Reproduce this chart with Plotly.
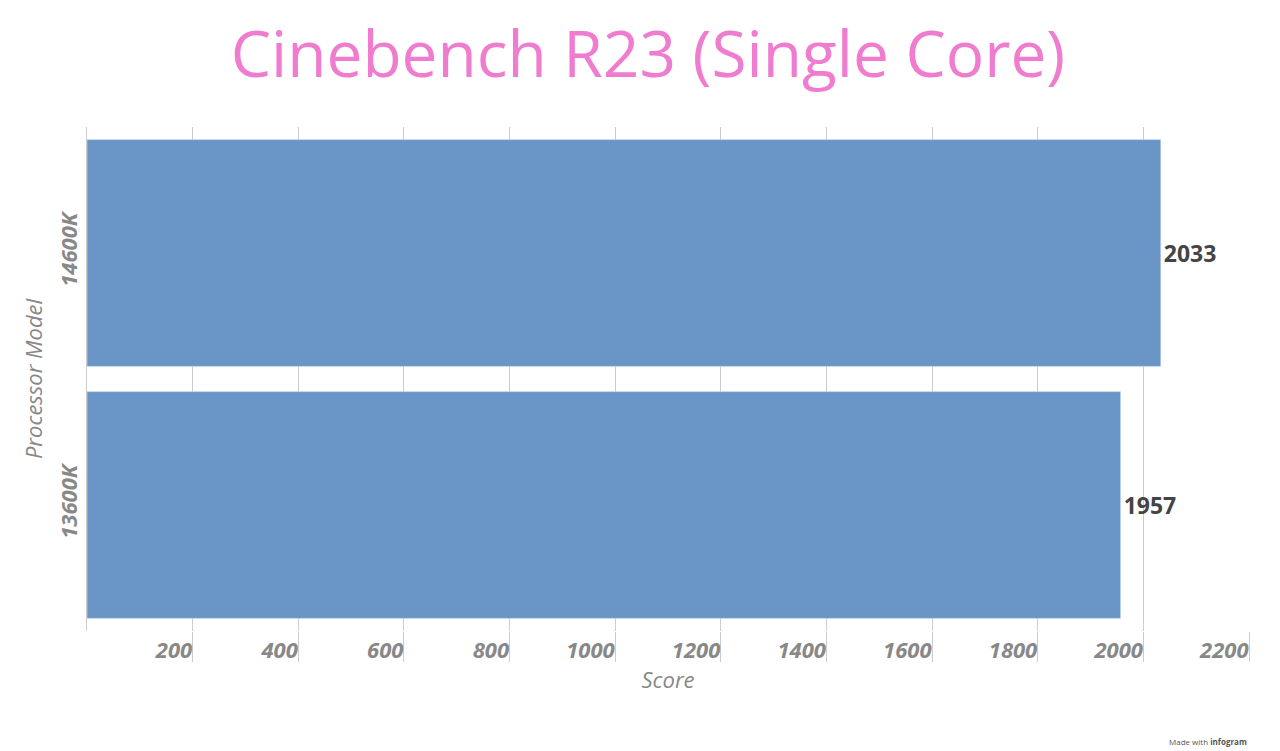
import plotly.graph_objects as go

processors = ["13600K", "14600K"]
scores = [1957, 2033]
tick_vals = [200, 400, 600, 800, 1000, 1200, 1400, 1600, 1800, 2000, 2200]

fig = go.Figure(go.Bar(
    x=scores, y=processors, orientation="h",
    marker=dict(color="#6a95c7"),
    width=0.9,
    text=[str(s) for s in scores], textposition="outside",
    textfont=dict(family="Open Sans", size=23, color="#444444", weight="bold"),
    cliponaxis=False,
))

fig.update_layout(
    width=1280, height=751,
    paper_bgcolor="white", plot_bgcolor="white",
    margin=dict(l=79, r=39, t=119, b=128, autoexpand=False),
    title=dict(text="Cinebench R23 (Single Core)", x=0.5, xanchor="center",
               y=0.938, yanchor="middle", yref="container",
               font=dict(family="Open Sans", size=64, color="#f07ccf")),
    showlegend=False,
    xaxis=dict(range=[0, 2200], tickvals=tick_vals, showgrid=True, gridcolor="#cccccc",
               ticks="outside", ticklen=30, tickcolor="#cccccc",
               ticklabelposition="outside left", automargin=False,
               tickfont=dict(family="Open Sans", size=22, color="#888888", style="italic", weight="bold"),
               title=dict(text="Score", font=dict(family="Open Sans", size=22, color="#888888", style="italic"), standoff=0),
               zeroline=False, showline=False),
    yaxis=dict(tickangle=-90, range=[-0.5, 1.5], automargin=False,
               tickfont=dict(family="Open Sans", size=22, color="#888888", style="italic", weight="bold"),
               title=dict(text="Processor Model", font=dict(family="Open Sans", size=22, color="#888888", style="italic"), standoff=4),
               showline=True, linecolor="#cccccc", showgrid=False,
               ticks="outside", ticklen=0),
    annotations=[dict(text="Made with <b>infogram</b>", x=1, y=0, xref="paper", yref="paper",
                      xanchor="right", yanchor="top", yshift=-103, showarrow=False,
                      font=dict(size=8, color="#555555"))],
)
fig.write_html("out.html")
